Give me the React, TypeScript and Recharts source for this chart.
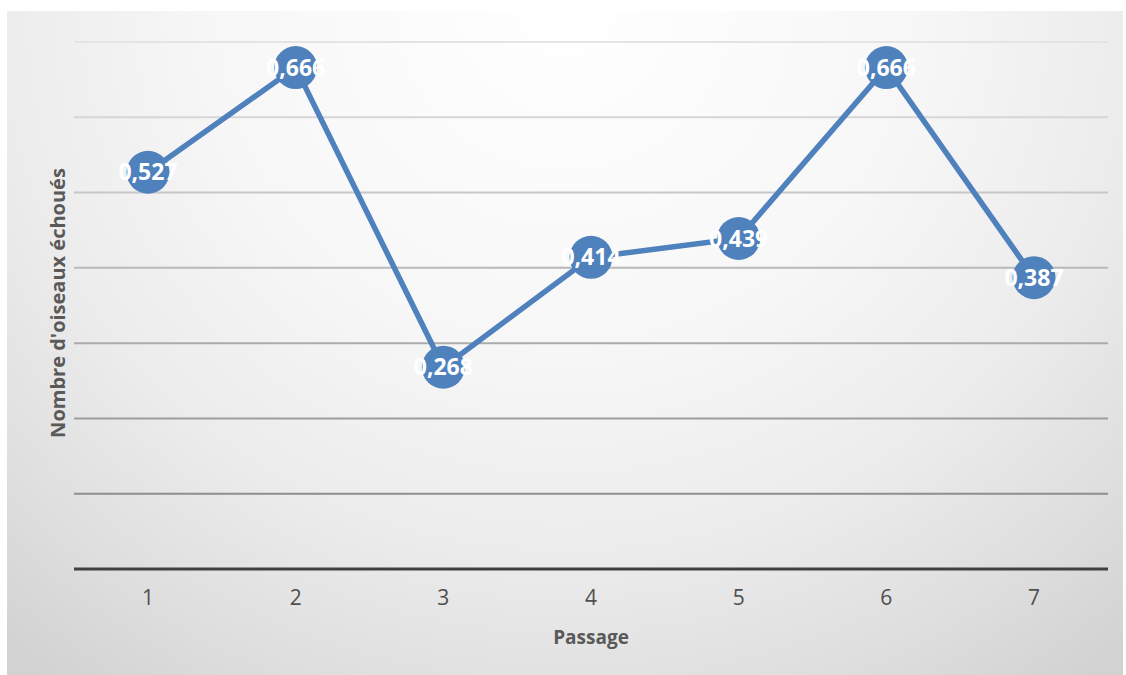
import React from 'react';
import { LineChart, Line, XAxis, YAxis, CartesianGrid, LabelList } from 'recharts';

const passages = ['1', '2', '3', '4', '5', '6', '7'];
const birdValues = [0.527, 0.666, 0.268, 0.414, 0.439, 0.666, 0.387];
const yTicks = [0, 0.1, 0.2, 0.3, 0.4, 0.5, 0.6, 0.7];

const data = passages.map((p, i) => ({ passage: p, value: birdValues[i] }));

const FONT = '"Open Sans", "Liberation Sans", sans-serif';
const LINE_COLOR = '#4f81bd';

const XTick = (props: any) => {
  const { x, y, payload } = props;
  return (
    <text x={x} y={y} dy={28} textAnchor="middle" fill="#4f4f4f" fontSize={21} fontFamily={FONT}>
      {payload.value}
    </text>
  );
};

// grid lines fade from light at the top to darker toward the axis
const gridShade = (y: number) => {
  const t = Math.max(0, Math.min(1, (y - 42) / (569 - 42)));
  const c = Math.round(228 - t * 100);
  return `rgb(${c},${c},${c})`;
};

const GridLine = (props: any) => {
  const { x1, x2, y1, y2 } = props;
  return <line x1={x1} x2={x2} y1={y1} y2={y2} stroke={gridShade(y1)} strokeWidth={2} />;
};

export default function App() {
  return (
    <div style={{ position: 'absolute', left: 0, top: 0, width: 1126, height: 675, background: '#ffffff', overflow: 'hidden' }}>
      <div
        style={{
          position: 'absolute',
          left: 7,
          top: 11,
          width: 1116,
          height: 664,
          background: 'radial-gradient(ellipse 78% 125% at 50% 0%, #ffffff 0%, #f7f7f7 40%, #ececec 65%, #dedede 85%, #d2d2d2 100%)',
        }}
      />
      <div style={{ position: 'absolute', left: 0, top: 0 }}>
        <LineChart
          width={1126}
          height={675}
          data={data}
          margin={{ top: 42, right: 18, left: 74, bottom: 0 }}
        >
          <CartesianGrid horizontal={(p: any) => <GridLine key={`g-${p.index}`} {...p} />} vertical={false} />
          <YAxis hide domain={[0, 0.7]} ticks={yTicks} type="number" />
          <XAxis
            dataKey="passage"
            height={106}
            padding={{ left: 74, right: 74 }}
            axisLine={{ stroke: '#404040', strokeWidth: 3 }}
            tickLine={false}
            tick={<XTick />}
            interval={0}
          />
          <Line
            type="linear"
            dataKey="value"
            stroke={LINE_COLOR}
            strokeWidth={5.5}
            dot={{ r: 21.5, fill: LINE_COLOR, stroke: 'none' }}
            activeDot={false}
            isAnimationActive={false}
          >
            <LabelList
              dataKey="value"
              position="center"
              formatter={(v: any) => String(v).replace('.', ',')}
              fill="#ffffff"
              fontSize={23}
              fontWeight="bold"
              fontFamily={FONT}
            />
          </Line>
        </LineChart>
      </div>
      <div
        style={{
          position: 'absolute',
          left: 591,
          top: 637,
          transform: 'translate(-50%, -50%)',
          fontFamily: FONT,
          fontWeight: 'bold',
          fontSize: 19,
          color: '#595959',
          whiteSpace: 'nowrap',
        }}
      >
        Passage
      </div>
      <div
        style={{
          position: 'absolute',
          left: 57,
          top: 303,
          transform: 'translate(-50%, -50%) rotate(-90deg)',
          fontFamily: FONT,
          fontWeight: 'bold',
          fontSize: 20,
          color: '#595959',
          whiteSpace: 'nowrap',
        }}
      >
        Nombre d'oiseaux échoués
      </div>
    </div>
  );
}
